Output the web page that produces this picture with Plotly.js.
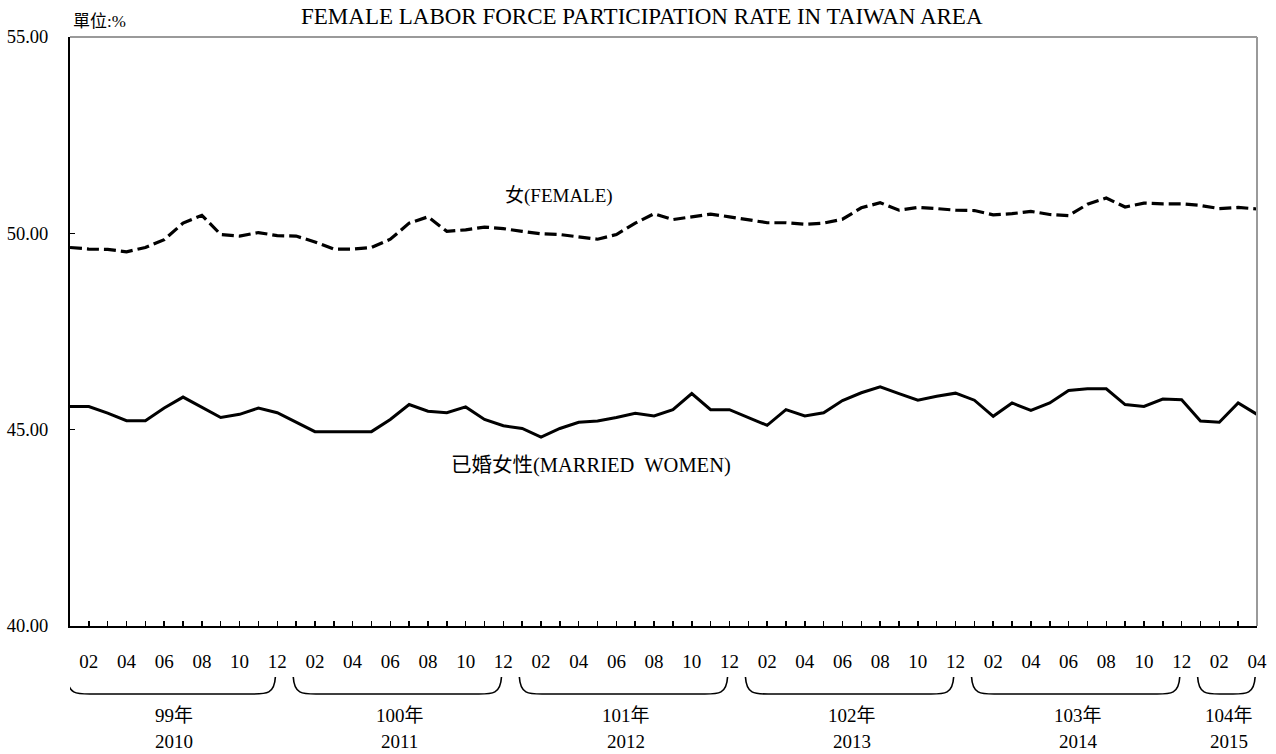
<!DOCTYPE html>
<html>
<head>
<meta charset="utf-8">
<script src="https://cdn.plot.ly/plotly-3.0.1.min.js"></script>
<style>
  html, body { margin: 0; padding: 0; background: #fff; }
  #chart { width: 1276px; height: 754px; }
</style>
</head>
<body>
<div id="chart"></div>
<script>
// ---- data ----
const chartTitle = 'FEMALE LABOR FORCE PARTICIPATION RATE IN TAIWAN AREA';
const unitLabel = '單位:%';
const rocYears = ['99年', '100年', '101年', '102年', '103年', '104年'];
const adYears = ['2010', '2011', '2012', '2013', '2014', '2015'];
const monthsInYear = [12, 12, 12, 12, 12, 4];
const yTickVals = [40, 45, 50, 55];
const yTickText = ['40.00', '45.00', '50.00', '55.00'];
const femaleName = '女(FEMALE)';
const marriedName = '已婚女性(MARRIED  WOMEN)';

const female = [
  49.64, 49.60, 49.59, 49.53, 49.64, 49.84, 50.26, 50.46, 49.97, 49.93, 50.02, 49.94,
  49.93, 49.78, 49.60, 49.60, 49.64, 49.85, 50.26, 50.42, 50.05, 50.09, 50.16, 50.12,
  50.05, 49.99, 49.97, 49.91, 49.85, 49.97, 50.26, 50.50, 50.35, 50.42, 50.49, 50.42,
  50.35, 50.27, 50.27, 50.23, 50.26, 50.36, 50.65, 50.78, 50.59, 50.66, 50.63, 50.59,
  50.58, 50.47, 50.50, 50.56, 50.48, 50.45, 50.74, 50.90, 50.67, 50.77, 50.75, 50.75,
  50.71, 50.63, 50.66, 50.62
];
const married = [
  45.59, 45.59, 45.42, 45.23, 45.23, 45.55, 45.83, 45.58, 45.31, 45.39, 45.55, 45.43,
  45.19, 44.95, 44.95, 44.95, 44.95, 45.26, 45.64, 45.47, 45.43, 45.58, 45.26, 45.10,
  45.03, 44.81, 45.03, 45.19, 45.22, 45.31, 45.42, 45.35, 45.51, 45.92, 45.51, 45.51,
  45.31, 45.11, 45.51, 45.35, 45.43, 45.74, 45.94, 46.09, 45.92, 45.75, 45.85, 45.93,
  45.75, 45.34, 45.68, 45.49, 45.68, 46.00, 46.04, 46.04, 45.64, 45.59, 45.78, 45.76,
  45.22, 45.19, 45.68, 45.39
];

// ---- derived positions (month index) ----
const xIdx = [], tickVals = [], tickText = [], yearSpans = [];
let k = 0;
for (let y = 0; y < monthsInYear.length; y++) {
  const start = k;
  for (let m = 1; m <= monthsInYear[y]; m++) {
    xIdx.push(k);
    tickVals.push(k);
    tickText.push(m % 2 === 0 ? String(m).padStart(2, '0') : '');
    k++;
  }
  yearSpans.push([start, k - 1]);
}

const FONT = 'Liberation Serif, "Noto Sans CJK TC", serif';
const PLOT_TOP = 37, PLOT_BOTTOM = 626, PLOT_H = PLOT_BOTTOM - PLOT_TOP;
const py = Y => (PLOT_BOTTOM - Y) / PLOT_H;

const traces = [
  { x: xIdx, y: female, type: 'scatter', mode: 'lines', name: femaleName,
    line: { color: '#000', width: 3.2, dash: '12px,5px' }, hoverinfo: 'skip' },
  { x: xIdx, y: married, type: 'scatter', mode: 'lines', name: marriedName,
    line: { color: '#000', width: 3 }, hoverinfo: 'skip' }
];

const shapes = [
  { type: 'line', xref: 'paper', yref: 'paper', x0: 0, x1: 1, y0: 1, y1: 1,
    line: { color: '#9a9a9a', width: 2 } },
  { type: 'line', xref: 'paper', yref: 'paper', x0: 1, x1: 1, y0: 0, y1: 1,
    line: { color: '#9a9a9a', width: 2 } }
];
const annotations = [
  { text: chartTitle, xref: 'paper', yref: 'paper', x: 0.482, y: py(17),
    xanchor: 'center', yanchor: 'middle', showarrow: false,
    font: { family: FONT, size: 23, color: '#000' } },
  { text: unitLabel, xref: 'paper', yref: 'paper', x: 0.001, y: py(21.5),
    xanchor: 'left', yanchor: 'middle', showarrow: false,
    font: { family: FONT, size: 17, color: '#000' } },
  { text: femaleName, xref: 'x', yref: 'y', x: 25.95, y: 50.94,
    xanchor: 'center', yanchor: 'middle', showarrow: false,
    font: { family: FONT, size: 19, color: '#000' } },
  { text: marriedName, xref: 'x', yref: 'y', x: 27.65, y: 44.09,
    xanchor: 'center', yanchor: 'middle', showarrow: false,
    font: { family: FONT, size: 20.5, color: '#000' } }
];

const yTop = py(677), yBot = py(694);
yearSpans.forEach((s, i) => {
  const x0 = s[0] - 0.15, x1 = s[1] - 0.1;
  const c = Math.min(1.2, (x1 - x0) / 2.6);
  const path = `M ${x0},${yTop} C ${x0 + 0.05},${yBot} ${x0 + c * 0.4},${yBot} ${x0 + c},${yBot} ` +
               `L ${x1 - c},${yBot} C ${x1 - c * 0.4},${yBot} ${x1 - 0.05},${yBot} ${x1},${yTop}`;
  shapes.push({ type: 'path', xref: 'x', yref: 'paper', path: path,
    line: { color: '#000', width: 1.6 } });
  const mid = (s[0] + s[1]) / 2;
  annotations.push({ text: rocYears[i], xref: 'x', yref: 'paper', x: mid, y: py(715),
    xanchor: 'center', yanchor: 'middle', showarrow: false,
    font: { family: FONT, size: 19, color: '#000' } });
  annotations.push({ text: adYears[i], xref: 'x', yref: 'paper', x: mid, y: py(741),
    xanchor: 'center', yanchor: 'middle', showarrow: false,
    font: { family: FONT, size: 19, color: '#000' } });
});

const layout = {
  width: 1276, height: 754,
  margin: { l: 70, r: 19, t: PLOT_TOP, b: 754 - PLOT_BOTTOM, pad: 0 },
  paper_bgcolor: '#fff', plot_bgcolor: '#fff',
  showlegend: false,
  font: { family: FONT, color: '#000' },
  xaxis: {
    type: 'linear', range: [0, xIdx.length - 1], showgrid: false, zeroline: false,
    showline: true, linecolor: '#000', linewidth: 2,
    tickmode: 'array', tickvals: tickVals, ticktext: tickText,
    ticks: 'inside', ticklen: 5, tickwidth: 1.5, tickcolor: '#000',
    ticklabelstandoff: 17,
    tickfont: { family: FONT, size: 19, color: '#000' }, fixedrange: true
  },
  yaxis: {
    range: [40, 55], showgrid: false, zeroline: false,
    showline: true, linecolor: '#000', linewidth: 2,
    tickmode: 'array', tickvals: yTickVals, ticktext: yTickText,
    ticks: 'inside', ticklen: 5, tickwidth: 1.5, tickcolor: '#000',
    ticklabelstandoff: 16,
    tickfont: { family: FONT, size: 18.5, color: '#000' }, fixedrange: true
  },
  shapes: shapes,
  annotations: annotations
};

Plotly.newPlot('chart', traces, layout, { staticPlot: true, displayModeBar: false });
</script>
</body>
</html>
